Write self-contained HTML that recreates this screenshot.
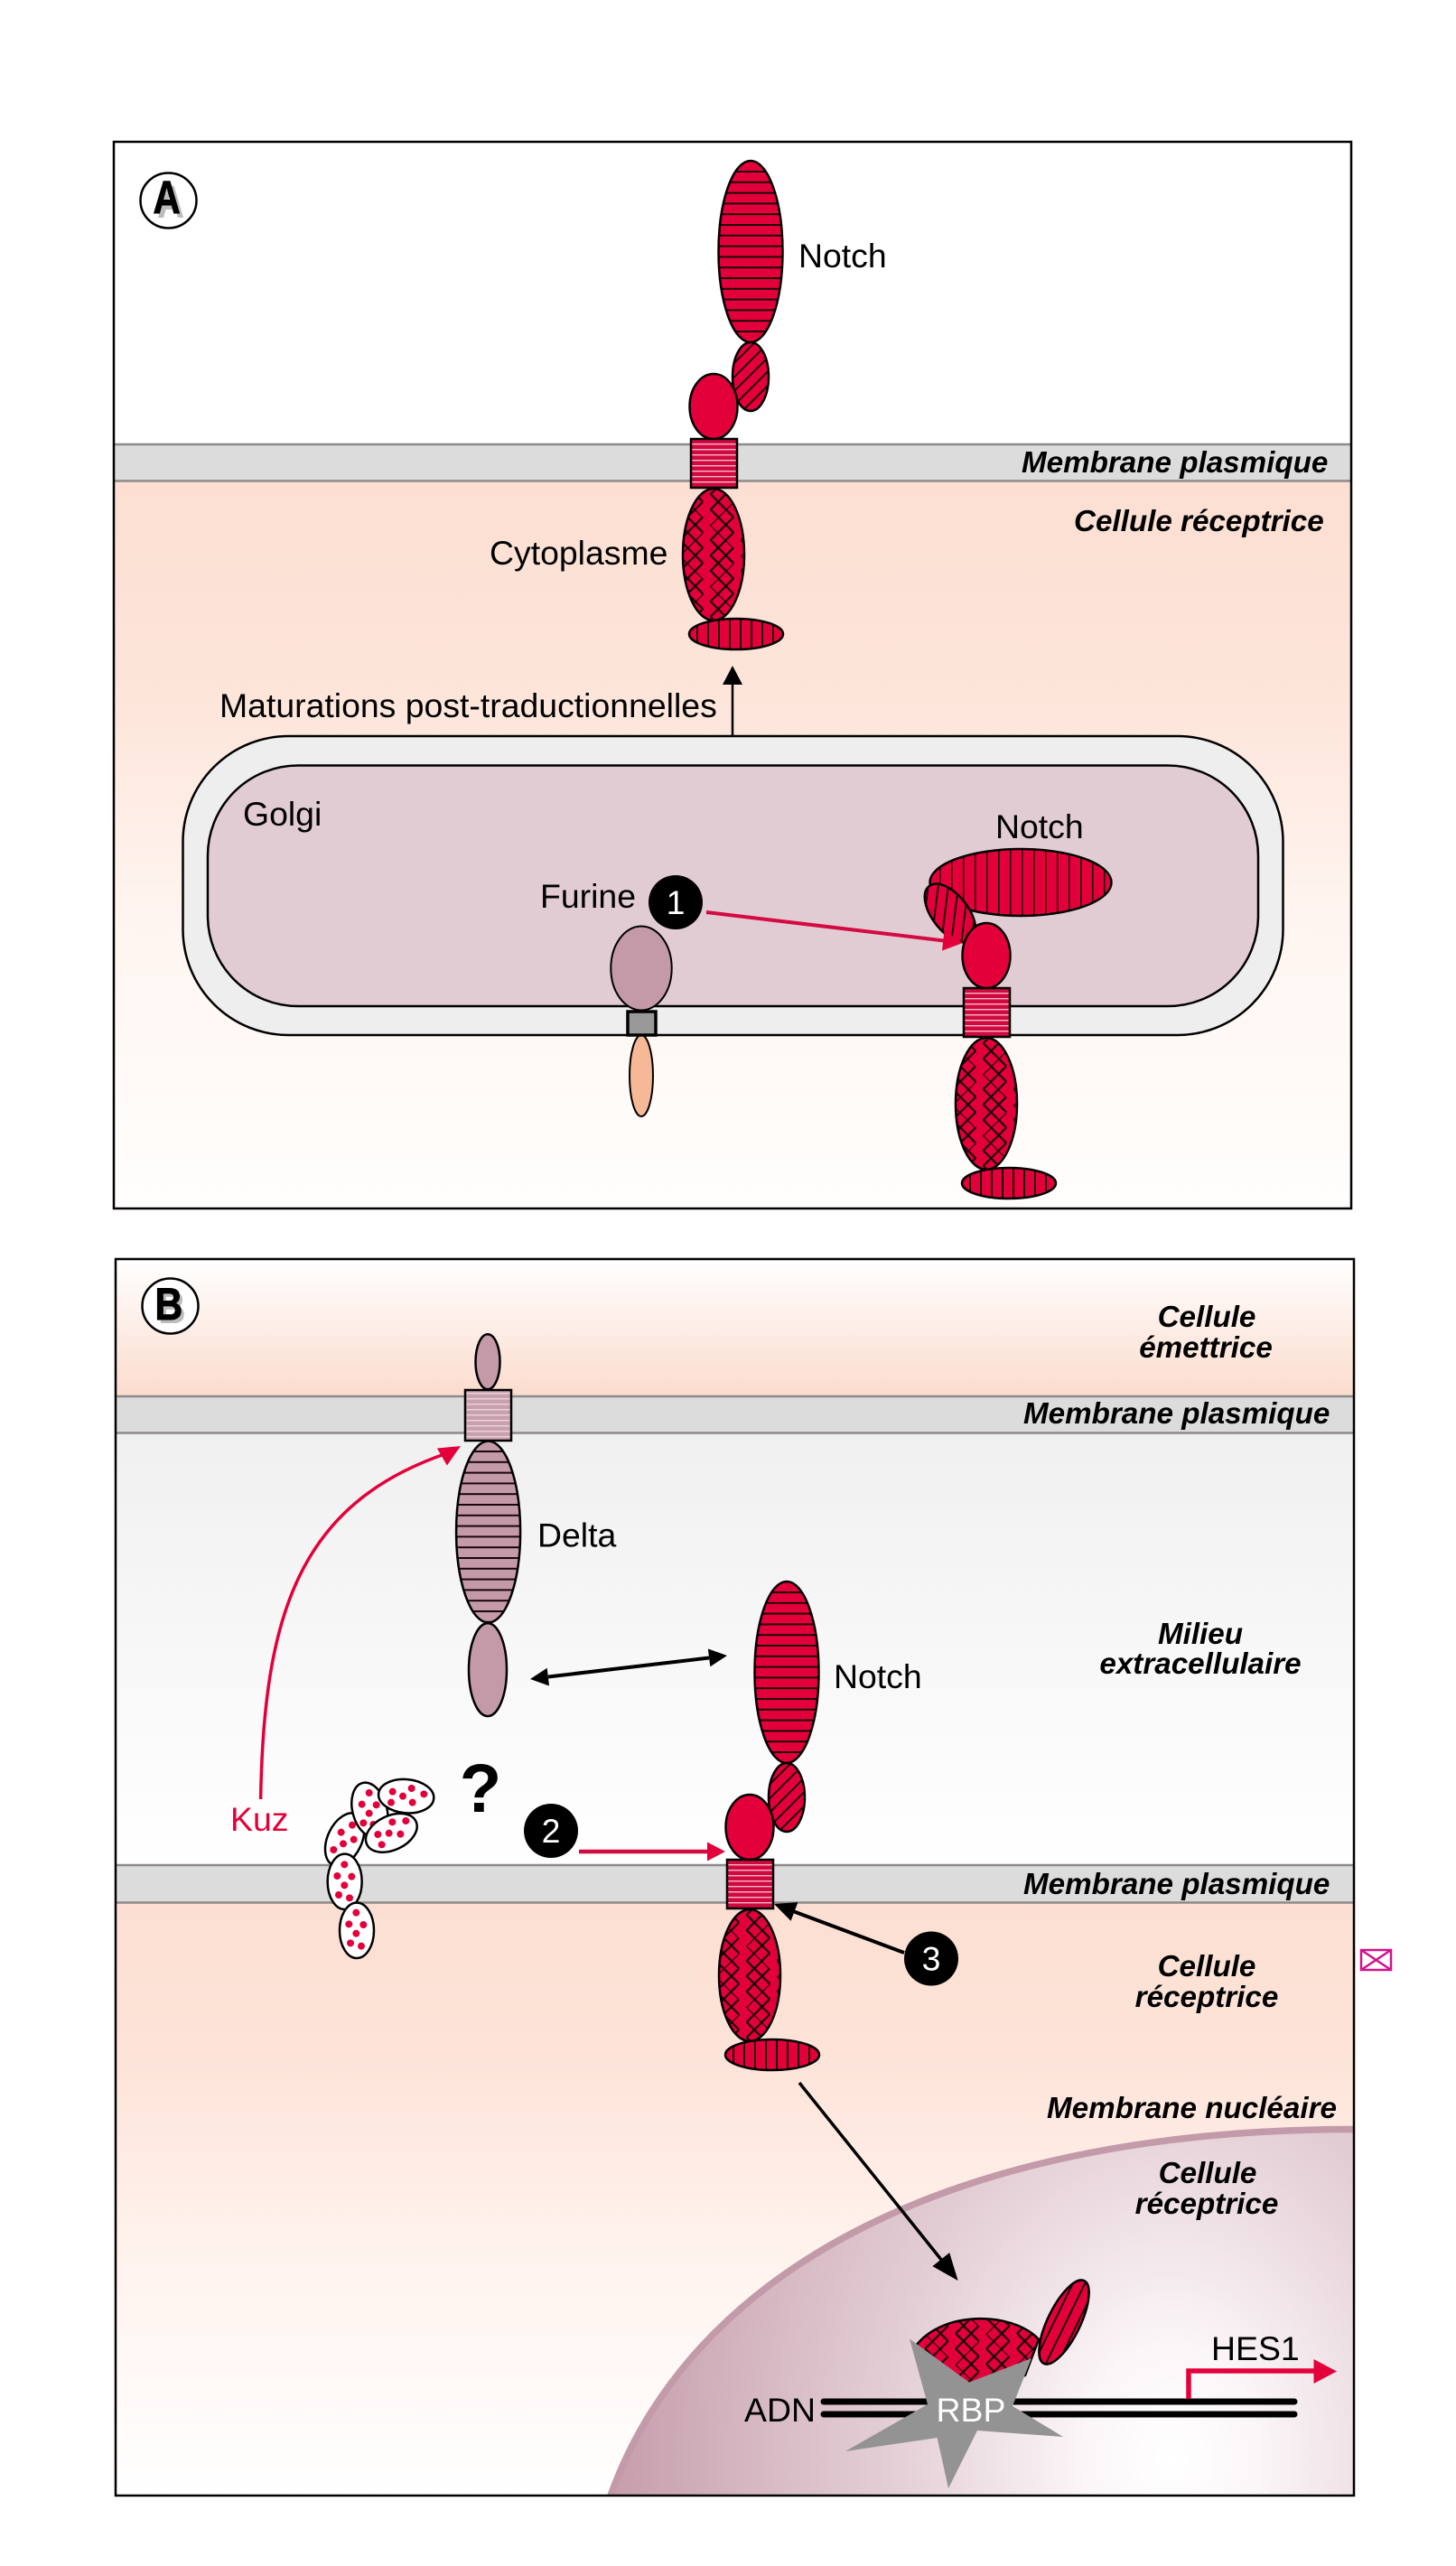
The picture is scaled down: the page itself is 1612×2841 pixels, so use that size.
<!DOCTYPE html>
<html><head><meta charset="utf-8"><style>
html,body{margin:0;padding:0;background:#fff}
svg{display:block}
text{font-family:"Liberation Sans",sans-serif;font-size:37.4px;fill:#000}
.b{font-weight:bold;font-style:italic;font-size:33.2px}
.m{text-anchor:middle}
</style></head><body>
<svg xmlns="http://www.w3.org/2000/svg" width="1612" height="2841" viewBox="0 0 1612 2841">
<defs>
<linearGradient id="cyA" x1="0" y1="0" x2="0" y2="1"><stop offset="0" stop-color="#fcdfd2"/><stop offset=".3" stop-color="#fde5da"/><stop offset=".6" stop-color="#fff5f0"/><stop offset="1" stop-color="#fffefd"/></linearGradient>
<linearGradient id="topB" x1="0" y1="0" x2="0" y2="1"><stop offset="0" stop-color="#ffffff"/><stop offset="1" stop-color="#fbdccd"/></linearGradient>
<linearGradient id="mil" x1="0" y1="0" x2="0" y2="1"><stop offset="0" stop-color="#f0f0f0"/><stop offset="1" stop-color="#ffffff"/></linearGradient>
<linearGradient id="cyB" x1="0" y1="0" x2="0" y2="1"><stop offset="0" stop-color="#fcdfd2"/><stop offset=".25" stop-color="#fde3d8"/><stop offset=".6" stop-color="#fff3ee"/><stop offset="1" stop-color="#ffffff"/></linearGradient>
<radialGradient id="nuc" gradientUnits="userSpaceOnUse" cx="0" cy="0" r="640" gradientTransform="translate(1297 2723) scale(1 1.3)"><stop offset="0" stop-color="#ffffff"/><stop offset=".15" stop-color="#fbf6f8"/><stop offset=".45" stop-color="#e6d2d9"/><stop offset=".75" stop-color="#d4b5c0"/><stop offset="1" stop-color="#c49aa9"/></radialGradient>
<pattern id="hs" patternUnits="userSpaceOnUse" width="10" height="11.8" patternTransform="translate(0 189)"><rect width="10" height="11.8" fill="#e3003a"/><rect width="10" height="2" fill="#1a0508"/></pattern>
<pattern id="hd" patternUnits="userSpaceOnUse" width="10" height="11.8" patternTransform="translate(0 1606)"><rect width="10" height="11.8" fill="#c49aa9"/><rect width="10" height="2" fill="#1a0508"/></pattern>
<pattern id="vs" patternUnits="userSpaceOnUse" width="12" height="10" patternTransform="translate(3 0)"><rect width="12" height="10" fill="#e3003a"/><rect width="2" height="10" fill="#1a0508"/></pattern>
<pattern id="vt" patternUnits="userSpaceOnUse" width="13" height="10"><rect width="13" height="10" fill="#e3003a"/><rect width="1.5" height="10" fill="#1a0508"/></pattern>
<pattern id="dg" patternUnits="userSpaceOnUse" width="11" height="11" patternTransform="rotate(-45)"><rect width="11" height="11" fill="#e3003a"/><rect width="11" height="1.9" fill="#1a0508"/></pattern>
<pattern id="sq" patternUnits="userSpaceOnUse" width="10" height="6" patternTransform="translate(0 491)"><rect width="10" height="6" fill="#cf0a40"/><rect width="10" height="1.4" fill="#fbb6c6"/></pattern>
<pattern id="sd" patternUnits="userSpaceOnUse" width="10" height="6"><rect width="10" height="6" fill="#c9a0ae"/><rect width="10" height="1.4" fill="#e8d6dc"/></pattern>
<pattern id="ch" patternUnits="userSpaceOnUse" width="48" height="48" patternTransform="translate(6 4) rotate(45)"><rect width="48" height="48" fill="#e3003a"/><path d="M0 0H36M12 12H48M24 24H48M0 24H12M36 36H48M0 36H24M0 12V48M12 24V48M12 0V12M24 36V48M24 0V24M36 0V36" stroke="#1a0508" stroke-width="2.2" fill="none"/></pattern>
<g id="low">
<ellipse cx="790" cy="614" rx="34" ry="73" fill="url(#ch)" stroke="#000" stroke-width="2.5"/>
<ellipse cx="815" cy="702" rx="52" ry="17" fill="url(#vs)" stroke="#000" stroke-width="2.5"/>
<ellipse cx="790" cy="450" rx="26.5" ry="36" fill="#e3003a" stroke="#000" stroke-width="2.5"/>
<rect x="765" y="486" width="51" height="54" fill="url(#sq)" stroke="#000" stroke-width="2.5"/>
</g>
<g id="notch">
<ellipse cx="831" cy="278.5" rx="35.5" ry="100.5" fill="url(#hs)" stroke="#000" stroke-width="2.5"/>
<ellipse cx="831" cy="417" rx="20" ry="38" fill="url(#dg)" stroke="#000" stroke-width="2.5"/>
<use href="#low"/>
</g>
</defs>
<rect width="1612" height="2841" fill="#fff"/>

<!-- Panel A -->
<rect x="126" y="157" width="1370" height="1181" fill="#fff"/>
<rect x="126" y="532" width="1370" height="806" fill="url(#cyA)"/>
<rect x="126" y="492" width="1370" height="41" fill="#dcdcdc"/>
<path d="M126 492H1496M126 532.500H1496" stroke="#8f8a8a" stroke-width="2.5"/>
<path d="M811 758V814" stroke="#000" stroke-width="2.5"/>
<polygon points="811,737 800,758 822,758" fill="#000"/>
<rect x="202.500" y="815" width="1218" height="331" rx="117" ry="117" fill="#eeeeee" stroke="#000" stroke-width="2.5"/>
<rect x="230" y="847.500" width="1163" height="266.500" rx="100" ry="100" fill="#e2ccd3" stroke="#000" stroke-width="2.5"/>
<rect x="126" y="157" width="1370" height="1181" fill="none" stroke="#000" stroke-width="2.5"/>
<use href="#notch"/>
<ellipse cx="186.500" cy="222" rx="31" ry="30.500" fill="#fff" stroke="#000" stroke-width="2.5"/>
<text transform="translate(174 241) scale(.82 1)" style="font-weight:bold;font-size:51px;fill:#bdbdbd">A</text>
<text transform="translate(169.500 236) scale(.82 1)" style="font-weight:bold;font-size:51px;stroke:#000;stroke-width:1">A</text>
<text x="884" y="296">Notch</text>
<text x="542" y="625">Cytoplasme</text>
<text x="243" y="794">Maturations post-traductionnelles</text>
<text class="b" x="1131" y="523">Membrane plasmique</text>
<text class="b" x="1189" y="588">Cellule réceptrice</text>
<text x="269" y="914">Golgi</text>
<text x="1102" y="928">Notch</text>
<text x="598" y="1005">Furine</text>

<!-- Furine -->
<ellipse cx="710" cy="1191" rx="13" ry="45" fill="#f7b897" stroke="#000" stroke-width="2"/>
<ellipse cx="710" cy="1072" rx="33.700" ry="46.500" fill="#c49aa9" stroke="#000" stroke-width="2"/>
<rect x="695" y="1120" width="31" height="26" fill="#999" stroke="#000" stroke-width="3.5"/>
<!-- Golgi Notch -->
<ellipse cx="1130" cy="977" rx="100.500" ry="37" fill="url(#vt)" stroke="#000" stroke-width="2.5"/>
<ellipse cx="1052" cy="1011" rx="20" ry="38" transform="rotate(-38 1052 1011)" fill="url(#dg)" stroke="#000" stroke-width="2.5"/>
<use href="#low" transform="translate(302 608)"/>
<circle cx="748" cy="999" r="30" fill="#000"/>
<text x="748" y="1012" class="m" style="fill:#fff">1</text>
<path d="M782 1010L1045 1041.500" stroke="#d40a42" stroke-width="4"/>
<polygon points="1066,1044 1043,1052.500 1045.500,1030.500" fill="#e3003a"/>

<!-- Panel B -->
<rect x="128" y="1394" width="1371" height="152" fill="url(#topB)"/>
<rect x="128" y="1586" width="1371" height="479" fill="url(#mil)"/>
<rect x="128" y="2106" width="1371" height="657" fill="url(#cyB)"/>
<rect x="128" y="1546" width="1371" height="41" fill="#dcdcdc"/>
<rect x="128" y="2065" width="1371" height="42" fill="#dcdcdc"/>
<path d="M128 1546H1499M128 1586.500H1499M128 2065H1499M128 2106.500H1499" stroke="#8f8a8a" stroke-width="2.5"/>

<!-- Nucleus -->
<path d="M674 2763C760 2520 1040 2354 1499 2354V2763Z" fill="url(#nuc)"/>
<path d="M676 2763C762 2523 1040 2357.500 1499 2357.500" fill="none" stroke="#c29aa9" stroke-width="7.500"/>
<rect x="128" y="1394" width="1371" height="1369" fill="none" stroke="#000" stroke-width="2.5"/>

<ellipse cx="188.500" cy="1446" rx="31" ry="30.500" fill="#fff" stroke="#000" stroke-width="2.5"/>
<text transform="translate(175 1465) scale(.85 1)" style="font-weight:bold;font-size:50px;fill:#bdbdbd">B</text>
<text transform="translate(171.500 1461) scale(.85 1)" style="font-weight:bold;font-size:50px;stroke:#000;stroke-width:1">B</text>
<text class="b m" x="1336" y="1469">Cellule</text>
<text class="b m" x="1335" y="1503">émettrice</text>
<text class="b" x="1133" y="1576">Membrane plasmique</text>
<text class="b m" x="1329" y="1820">Milieu</text>
<text class="b m" x="1329" y="1853">extracellulaire</text>
<text class="b" x="1133" y="2097">Membrane plasmique</text>
<text class="b m" x="1336" y="2188">Cellule</text>
<text class="b m" x="1336" y="2222">réceptrice</text>
<text class="b" x="1159" y="2345">Membrane nucléaire</text>
<text class="b m" x="1337" y="2417">Cellule</text>
<text class="b m" x="1336" y="2451">réceptrice</text>

<!-- Delta -->
<ellipse cx="540" cy="1507.700" rx="13.500" ry="30.500" fill="#c49aa9" stroke="#000" stroke-width="2.5"/>
<rect x="515" y="1539" width="51" height="56" fill="url(#sd)" stroke="#000" stroke-width="2.5"/>
<ellipse cx="540.600" cy="1696" rx="35.500" ry="100.500" fill="url(#hd)" stroke="#000" stroke-width="2.5"/>
<ellipse cx="540" cy="1848.600" rx="21" ry="51.500" fill="#c49aa9" stroke="#000" stroke-width="2.5"/>
<text x="595" y="1712.500">Delta</text>
<text x="923" y="1869">Notch</text>

<use href="#notch" transform="translate(40 1573)"/>

<!-- Arrows B -->
<path d="M607 1856.500L785 1835.500" stroke="#000" stroke-width="4"/>
<polygon points="587,1859 608,1866.500 605.700,1846.700" fill="#000"/>
<polygon points="805,1833 786.300,1845.300 783.900,1825.500" fill="#000"/>
<path d="M288.600 1992C292 1790 330 1665 495 1609" fill="none" stroke="#e3003a" stroke-width="3.500"/>
<polygon points="510,1601 494.900,1622.500 483.900,1603.500" fill="#e3003a"/>
<text x="255" y="2027" style="fill:#e3003a">Kuz</text>
<circle cx="610" cy="2027" r="30" fill="#000"/>
<text x="610" y="2040" class="m" style="fill:#fff">2</text>
<path d="M641 2050H785" stroke="#d40a42" stroke-width="4.500"/>
<polygon points="803,2050 783,2039.500 783,2060.500" fill="#e3003a"/>
<text x="532" y="2006" class="m" style="font-weight:bold;font-size:76px">?</text>
<path d="M1001 2162L878 2116" stroke="#000" stroke-width="4"/>
<polygon points="857,2108 883.400,2106.100 875.600,2126.700" fill="#000"/>
<circle cx="1031" cy="2168.500" r="30" fill="#000"/>
<text x="1031" y="2181.500" class="m" style="fill:#fff">3</text>
<path d="M885 2306L1043 2503" stroke="#000" stroke-width="3.500"/>
<polygon points="1060.600,2525 1051.200,2494.100 1032.400,2509.100" fill="#000"/>

<!-- Vesicles -->
<g transform="translate(340 1930) scale(.33333)" fill="#e3003a">
<ellipse cx="125" cy="320" rx="57" ry="93" transform="rotate(25 125 320)" fill="#fff" stroke="#000" stroke-width="7.500"/>
<circle cx="150" cy="272" r="12"/><circle cx="113" cy="296" r="12"/><circle cx="155" cy="320" r="12"/><circle cx="120" cy="334" r="12"/><circle cx="88" cy="354" r="12"/>
<ellipse cx="208" cy="222" rx="57" ry="93" transform="rotate(-15 208 222)" fill="#fff" stroke="#000" stroke-width="7.500"/>
<circle cx="206" cy="165" r="12"/><circle cx="182" cy="203" r="12"/><circle cx="230" cy="205" r="12"/><circle cx="206" cy="233" r="12"/><circle cx="187" cy="265" r="12"/><circle cx="220" cy="270" r="12"/>
<ellipse cx="280" cy="298" rx="90" ry="57" transform="rotate(-25 280 298)" fill="#fff" stroke="#000" stroke-width="7.500"/>
<circle cx="283" cy="262" r="12"/><circle cx="328" cy="258" r="12"/><circle cx="235" cy="303" r="12"/><circle cx="272" cy="299" r="12"/><circle cx="310" cy="302" r="12"/><circle cx="248" cy="337" r="12"/>
<ellipse cx="329" cy="176" rx="92" ry="56" transform="rotate(5 329 176)" fill="#fff" stroke="#000" stroke-width="7.500"/>
<circle cx="284" cy="161" r="12"/><circle cx="347" cy="150" r="12"/><circle cx="388" cy="169" r="12"/><circle cx="318" cy="176" r="12"/><circle cx="279" cy="197" r="12"/><circle cx="350" cy="197" r="12"/>
<ellipse cx="125" cy="460" rx="57" ry="92" fill="#fff" stroke="#000" stroke-width="7.500"/>
<circle cx="124" cy="403" r="12"/><circle cx="100" cy="441" r="12"/><circle cx="148" cy="443" r="12"/><circle cx="124" cy="472" r="12"/><circle cx="105" cy="504" r="12"/><circle cx="141" cy="514" r="12"/>
<ellipse cx="165" cy="622" rx="57" ry="92" fill="#fff" stroke="#000" stroke-width="7.500"/>
<circle cx="163" cy="563" r="12"/><circle cx="139" cy="601" r="12"/><circle cx="187" cy="603" r="12"/><circle cx="163" cy="632" r="12"/><circle cx="144" cy="664" r="12"/><circle cx="180" cy="674" r="12"/>
</g>

<!-- Nuclear complex -->
<path d="M1012 2600C1040 2558 1120 2558 1150 2590L1135 2630 1075 2640 1030 2630Z" fill="url(#ch)" stroke="#000" stroke-width="2.500"/>
<ellipse cx="1178" cy="2571" rx="18" ry="51" transform="rotate(26 1178 2571)" fill="url(#vs)" stroke="#000" stroke-width="2.500"/>
<path d="M912 2659H1433M912 2673H1433" stroke="#000" stroke-width="7" stroke-linecap="round"/>
<path d="M1316 2656V2625H1458" fill="none" stroke="#e3003a" stroke-width="5.500"/>
<polygon points="1480,2625.500 1454.500,2612 1454.500,2639" fill="#e3003a"/>
<polygon points="1007,2589.500 1073,2637.600 1142,2611 1121,2664 1177,2698 1082,2691 1050,2755 1037.600,2699 936,2714 1027,2662" fill="#939393"/>
<text x="1075" y="2681" class="m" style="fill:#fff">RBP</text>
<text x="824" y="2681">ADN</text>
<text x="1341" y="2613">HES1</text>

<!-- Envelope glyph -->
<g fill="none" stroke="#d0148c" stroke-width="2.500"><rect x="1507" y="2159" width="33" height="22"/><path d="M1507 2159L1540 2181M1540 2159L1507 2181"/></g>
</svg>
</body></html>
